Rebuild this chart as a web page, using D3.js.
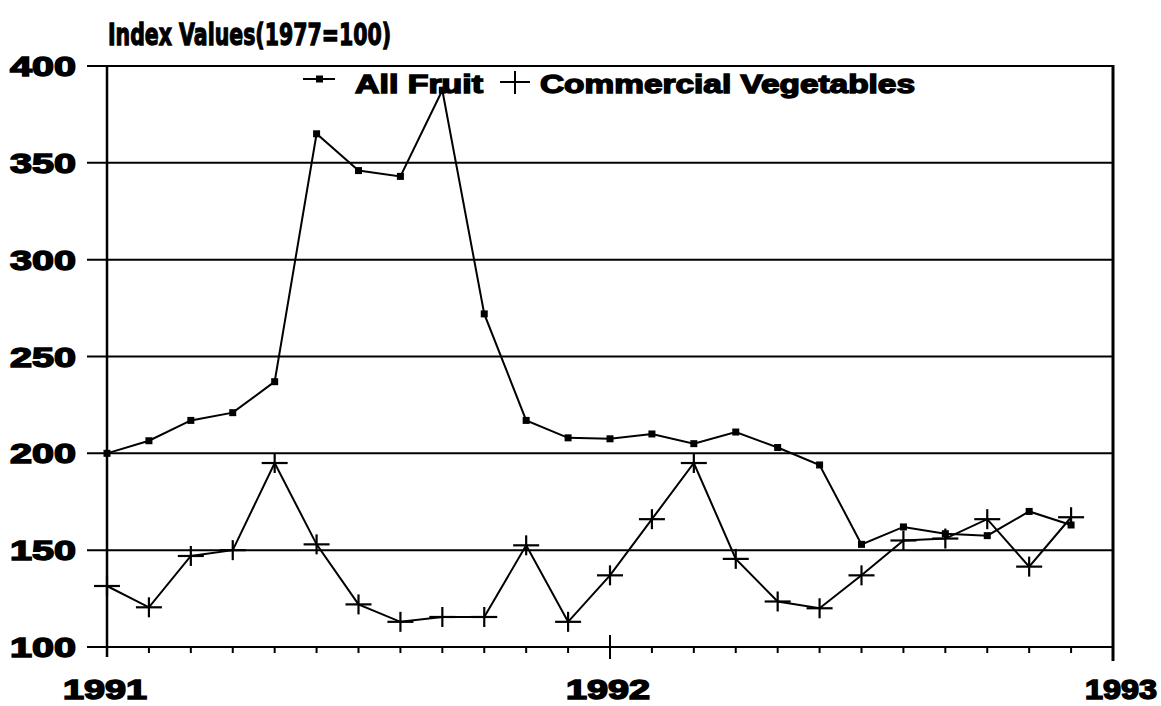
<!DOCTYPE html>
<html>
<head>
<meta charset="utf-8">
<script src="https://cdn.jsdelivr.net/npm/d3@7"></script>
<style>
  body { margin: 0; background: #fff; }
  text { font-family: "Liberation Sans", Arial, sans-serif; font-weight: bold; fill: #000; }
  text.title { font-family: "DejaVu Sans", sans-serif; }
</style>
</head>
<body>
<div id="graph"></div>
<script>
// data (monthly, Jan 1991 .. Dec 1992)
const monthIndex = d3.range(24);
const allFruit = [200, 206.5, 217, 221, 237, 365, 346, 343, 387.5, 272, 217, 208,
                  207.5, 210, 205, 211, 203, 194, 153, 162, 158.5, 157.5, 170, 163];
const vegetables = [131.5, 120.5, 147, 150, 195, 153, 122, 113, 115.5, 115.5, 152.5, 113,
                    137, 166, 195, 145.5, 123.5, 120, 137, 155, 156, 166, 141.5, 167];
const yTicks = [100, 150, 200, 250, 300, 350, 400];
const yearTicks = [0, 12, 24];
const yearLabels = ["1991", "1992", "1993"];

const W = 1161, H = 706;
const svg = d3.select("#graph")
  .append("svg")
    .attr("width", W)
    .attr("height", H);

// scales
const x = d3.scaleLinear().domain([0, 24]).range([107, 1113]);
const y = d3.scaleLinear().domain([100, 400]).range([647, 66]);

// title (stretched vertically to get the heavy tall look)
svg.append("text")
  .attr("class", "title")
  .attr("transform", "translate(108,45) scale(1,1.3)")
  .attr("font-size", 23)
  .attr("textLength", 283).attr("lengthAdjust", "spacingAndGlyphs")
  .attr("stroke", "#000").attr("stroke-width", 1)
  .text("Index Values(1977=100)");

// gridlines + left ticks
svg.selectAll("line.grid")
  .data(yTicks)
  .join("line")
    .attr("class", "grid")
    .attr("x1", 87).attr("x2", x(24))
    .attr("y1", d => y(d)).attr("y2", d => y(d))
    .attr("stroke", "#000").attr("stroke-width", 2);

svg.selectAll("text.ylab")
  .data(yTicks)
  .join("text")
    .attr("class", "ylab")
    .attr("x", 76).attr("y", d => y(d) + 10)
    .attr("text-anchor", "end")
    .attr("font-size", 28)
    .attr("textLength", 66).attr("lengthAdjust", "spacingAndGlyphs")
    .attr("stroke", "#000").attr("stroke-width", 1.5)
    .text(d => d);

// left axis and right border
svg.append("line")
  .attr("x1", x(0)).attr("x2", x(0))
  .attr("y1", y(400)).attr("y2", y(100) + 10)
  .attr("stroke", "#000").attr("stroke-width", 2.5);
svg.append("line")
  .attr("x1", x(24)).attr("x2", x(24))
  .attr("y1", y(400) - 1).attr("y2", y(100) + 14)
  .attr("stroke", "#000").attr("stroke-width", 3);

// month ticks
svg.selectAll("line.mtick")
  .data(d3.range(1, 24))
  .join("line")
    .attr("class", "mtick")
    .attr("x1", d => x(d)).attr("x2", d => x(d))
    .attr("y1", y(100)).attr("y2", d => d === 12 ? y(100) + 12 : y(100) + 6)
    .attr("stroke", "#000").attr("stroke-width", 2);
svg.append("line")
  .attr("x1", x(12)).attr("x2", x(12))
  .attr("y1", y(100) - 12).attr("y2", y(100))
  .attr("stroke", "#000").attr("stroke-width", 2);

// year labels
svg.selectAll("text.xlab")
  .data(yearTicks)
  .join("text")
    .attr("class", "xlab")
    .attr("x", (d, i) => i === 2 ? 1157 : x(d) - 2)
    .attr("y", 699)
    .attr("text-anchor", (d, i) => i === 2 ? "end" : "middle")
    .attr("font-size", 27)
    .attr("textLength", (d, i) => i === 2 ? 72 : 84).attr("lengthAdjust", "spacingAndGlyphs")
    .attr("stroke", "#000").attr("stroke-width", 1.5)
    .text((d, i) => yearLabels[i]);

const line = d3.line()
  .x((d, i) => x(monthIndex[i]))
  .y(d => y(d));

// All Fruit
svg.append("path")
  .datum(allFruit)
  .attr("fill", "none").attr("stroke", "#000").attr("stroke-width", 2)
  .attr("d", line);
svg.selectAll("rect.fruit")
  .data(allFruit)
  .join("rect")
    .attr("class", "fruit")
    .attr("x", (d, i) => x(monthIndex[i]) - 3.5)
    .attr("y", d => y(d) - 3.5)
    .attr("width", 7).attr("height", 7)
    .attr("fill", "#000");

// Commercial Vegetables
svg.append("path")
  .datum(vegetables)
  .attr("fill", "none").attr("stroke", "#000").attr("stroke-width", 2)
  .attr("d", line);
const plus = svg.selectAll("g.veg")
  .data(vegetables)
  .join("g")
    .attr("class", "veg")
    .attr("transform", (d, i) => `translate(${x(monthIndex[i])},${y(d)})`);
plus.append("line")
  .attr("x1", -13).attr("x2", 13).attr("y1", 0).attr("y2", 0)
  .attr("stroke", "#000").attr("stroke-width", 2.2);
plus.append("line")
  .attr("x1", 0).attr("x2", 0).attr("y1", -10).attr("y2", 10)
  .attr("stroke", "#000").attr("stroke-width", 2.2);

// legend
const lg = svg.append("g");
lg.append("line")
  .attr("x1", 303).attr("x2", 335).attr("y1", 79).attr("y2", 79)
  .attr("stroke", "#000").attr("stroke-width", 2);
lg.append("rect")
  .attr("x", 316).attr("y", 75.5).attr("width", 7).attr("height", 7)
  .attr("fill", "#000");
lg.append("text")
  .attr("x", 355).attr("y", 93)
  .attr("font-size", 25)
  .attr("textLength", 128).attr("lengthAdjust", "spacingAndGlyphs")
  .attr("stroke", "#000").attr("stroke-width", 1.4)
  .text("All Fruit");
lg.append("line")
  .attr("x1", 500).attr("x2", 530).attr("y1", 82).attr("y2", 82)
  .attr("stroke", "#000").attr("stroke-width", 2);
lg.append("line")
  .attr("x1", 515).attr("x2", 515).attr("y1", 71).attr("y2", 94)
  .attr("stroke", "#000").attr("stroke-width", 2);
lg.append("text")
  .attr("x", 540).attr("y", 93)
  .attr("font-size", 25)
  .attr("textLength", 375).attr("lengthAdjust", "spacingAndGlyphs")
  .attr("stroke", "#000").attr("stroke-width", 1.4)
  .text("Commercial Vegetables");
</script>
</body>
</html>
